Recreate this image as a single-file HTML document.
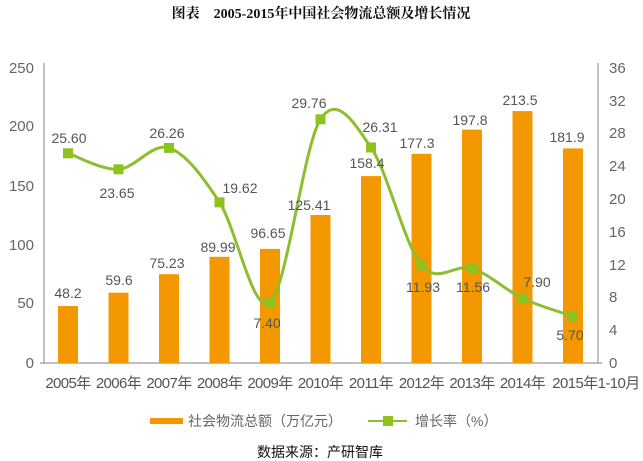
<!DOCTYPE html>
<html><head><meta charset="utf-8"><style>
html,body{margin:0;padding:0;background:#fff;}
svg{display:block;}
text{font-family:"Liberation Sans","Noto Sans CJK SC",sans-serif;}
</style></head><body>
<svg width="643" height="461" viewBox="0 0 643 461" xmlns="http://www.w3.org/2000/svg">
<text x="321" y="18" text-anchor="middle" font-size="14" font-weight="bold" fill="#111" style="font-family:'Liberation Serif','Noto Serif CJK SC',serif">图表　2005-2015年中国社会物流总额及增长情况</text>
<g fill="#666" font-size="15" text-anchor="end">
<text x="34" y="73">250</text><text x="34" y="131">200</text><text x="34" y="191">150</text>
<text x="34" y="250">100</text><text x="34" y="308">50</text><text x="34" y="368">0</text>
</g>
<g fill="#666" font-size="15">
<text x="609" y="73">36</text><text x="609" y="106">32</text><text x="609" y="138">28</text>
<text x="609" y="171">24</text><text x="609" y="204">20</text><text x="609" y="237">16</text>
<text x="609" y="270">12</text><text x="609" y="302">8</text><text x="609" y="335">4</text><text x="609" y="368">0</text>
</g>
<line x1="44" y1="63" x2="44" y2="363" stroke="#999" stroke-width="1.2"/>
<line x1="598" y1="63" x2="598" y2="363" stroke="#999" stroke-width="1.2"/>
<line x1="40" y1="363" x2="602" y2="363" stroke="#999" stroke-width="1.2"/>
<g fill="#F39800">
<rect x="58" y="306" width="20" height="57"/>
<rect x="108.5" y="292.7" width="20" height="70.3"/>
<rect x="159" y="274.2" width="20" height="88.8"/>
<rect x="209.5" y="256.8" width="20" height="106.2"/>
<rect x="260" y="248.9" width="20" height="114.1"/>
<rect x="310.5" y="215" width="20" height="148"/>
<rect x="361" y="176.1" width="20" height="186.9"/>
<rect x="411.5" y="153.8" width="20" height="209.2"/>
<rect x="462" y="129.6" width="20" height="233.4"/>
<rect x="512.5" y="111.1" width="20" height="251.9"/>
<rect x="563" y="148.4" width="20" height="214.6"/>
</g>
<path d="M68,153.3 C76.4,156 101.7,170.2 118.5,169.3 C135.3,168.4 152.2,142.4 169,147.9 C185.8,153.4 202.7,176.5 219.5,202.3 C236.3,228.1 253.2,316.2 270,302.4 C286.8,288.6 303.7,145.1 320.5,119.3 C337.3,93.5 354.2,123.2 371,147.5 C387.8,171.8 404.7,245.2 421.5,265.3 C438.3,285.4 455.2,262.8 472,268.3 C488.8,273.8 505.7,290.3 522.5,298.3 C539.3,306.3 564.6,313.3 573,316.3" fill="none" stroke="#8DBE2E" stroke-width="3"/>
<g fill="#8DC21F">
<rect x="63" y="148.3" width="10" height="10"/><rect x="113.5" y="164.3" width="10" height="10"/>
<rect x="164" y="142.9" width="10" height="10"/><rect x="214.5" y="197.3" width="10" height="10"/>
<rect x="265" y="297.4" width="10" height="10"/><rect x="315.5" y="114.3" width="10" height="10"/>
<rect x="366" y="142.5" width="10" height="10"/><rect x="416.5" y="260.3" width="10" height="10"/>
<rect x="467" y="263.3" width="10" height="10"/><rect x="517.5" y="293.3" width="10" height="10"/>
<rect x="568" y="311.3" width="10" height="10"/>
</g>
<g fill="#555" font-size="14" text-anchor="middle">
<text x="69" y="143">25.60</text><text x="117" y="198">23.65</text><text x="167" y="138">26.26</text>
<text x="240" y="193">19.62</text><text x="267" y="328">7.40</text><text x="309" y="108">29.76</text>
<text x="380" y="132">26.31</text><text x="423" y="292">11.93</text><text x="473" y="292">11.56</text>
<text x="537" y="287">7.90</text><text x="570" y="340">5.70</text>
<text x="68" y="298">48.2</text><text x="119" y="285">59.6</text><text x="167" y="268">75.23</text>
<text x="218" y="252">89.99</text><text x="268" y="238">96.65</text><text x="309" y="210">125.41</text>
<text x="367" y="168">158.4</text><text x="417" y="148">177.3</text><text x="470" y="125">197.8</text>
<text x="520" y="105">213.5</text><text x="567" y="142">181.9</text>
</g>
<g fill="#555" font-size="15" text-anchor="middle" letter-spacing="-0.6">
<text x="68" y="388">2005年</text><text x="118.5" y="388">2006年</text><text x="169" y="388">2007年</text>
<text x="219.5" y="388">2008年</text><text x="270" y="388">2009年</text><text x="320.5" y="388">2010年</text>
<text x="371" y="388">2011年</text><text x="421.5" y="388">2012年</text><text x="472" y="388">2013年</text>
<text x="522.5" y="388">2014年</text><text x="596" y="388">2015年1-10月</text>
</g>
<rect x="150" y="418" width="33" height="6" fill="#F39800"/>
<text x="188" y="426" font-size="14" fill="#666">社会物流总额（万亿元）</text>
<line x1="368" y1="421" x2="407" y2="421" stroke="#8DBE2E" stroke-width="2"/>
<rect x="383" y="416" width="10" height="10" fill="#8DC21F"/>
<text x="415" y="426" font-size="14" fill="#666">增长率（%）</text>
<text x="320" y="457" font-size="14" fill="#111" text-anchor="middle">数据来源：产研智库</text>
</svg>
</body></html>
